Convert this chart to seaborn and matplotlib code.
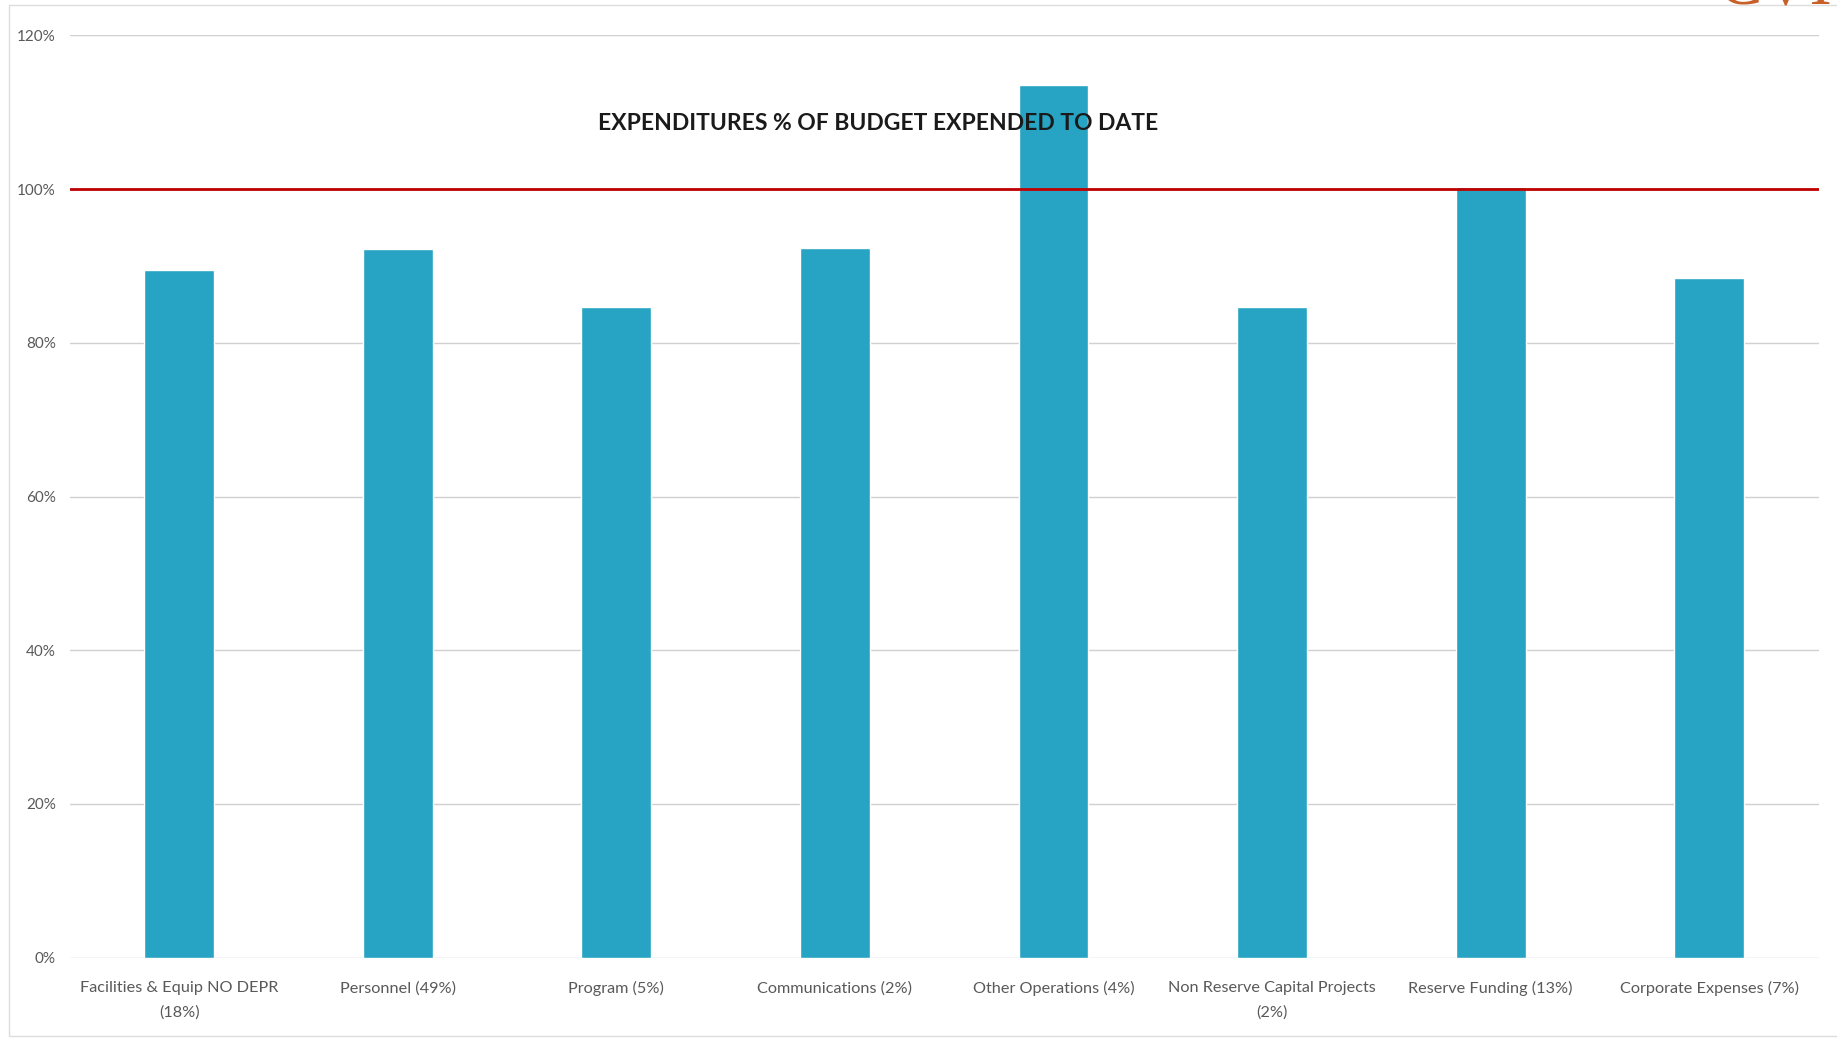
import matplotlib
matplotlib.use("Agg")
import matplotlib.pyplot as plt
from matplotlib.ticker import PercentFormatter
import seaborn as sns
import pandas as pd

# Values
categories = [
    "Facilities & Equip NO DEPR\n(18%)",
    "Personnel (49%)",
    "Program (5%)",
    "Communications (2%)",
    "Other Operations (4%)",
    "Non Reserve Capital Projects\n(2%)",
    "Reserve Funding (13%)",
    "Corporate Expenses (7%)",
]
pct_expended = [0.895, 0.922, 0.847, 0.923, 1.136, 0.847, 1.003, 0.885]
budget_line = 1.0
y_ticks = [0, 0.2, 0.4, 0.6, 0.8, 1.0, 1.2]

df = pd.DataFrame({"category": categories, "pct": pct_expended})

sns.set_style("white")
plt.rcParams["font.family"] = ["Lato", "DejaVu Sans"]

fig = plt.figure(figsize=(18.37, 10.41), dpi=100)
ax = fig.add_axes([0.038, 0.08, 0.952, 0.886])

sns.barplot(data=df, x="category", y="pct", color="#27A3C3", saturation=1,
            width=0.32, ax=ax, zorder=2)

# budget (100%) reference line
ax.axhline(budget_line, color="#C00000", lw=2, zorder=3)

ax.set_ylim(0, 1.2)
ax.set_xlim(-0.5, len(categories) - 0.5)
ax.set_yticks(y_ticks)
ax.yaxis.set_major_formatter(PercentFormatter(1.0, decimals=0))
ax.grid(axis="y", color="#D0D0D0", lw=1, zorder=0)
ax.set_axisbelow(True)
ax.set_xlabel("")
ax.set_ylabel("")
for s in ["top", "right", "left", "bottom"]:
    ax.spines[s].set_visible(False)
ax.set_xticks(range(len(categories)))
ax.set_xticklabels(categories, linespacing=1.9)
ax.tick_params(axis="both", length=0, colors="#595959")
ax.tick_params(axis="x", labelsize=11.7, pad=17)
ax.tick_params(axis="y", labelsize=11, pad=10)

ax.text(0.462, 0.905, "EXPENDITURES % OF BUDGET EXPENDED TO DATE",
        transform=ax.transAxes, ha="center", va="center",
        fontsize=16.5, fontweight="bold", color="#1A1A1A", zorder=4)

# page border of the scan and the logo peeking in at the top right
fig.add_artist(plt.Rectangle((0.005, 0.005), 1.2, 0.99, transform=fig.transFigure,
                             fill=False, ec="#DDDDDD", lw=1))
fig.text(0.935, 1.012, "CVI", color="#C8602A", fontsize=48,
         family=["Liberation Serif", "DejaVu Serif"], ha="left", va="center")

fig.savefig("out.png", dpi=100)
